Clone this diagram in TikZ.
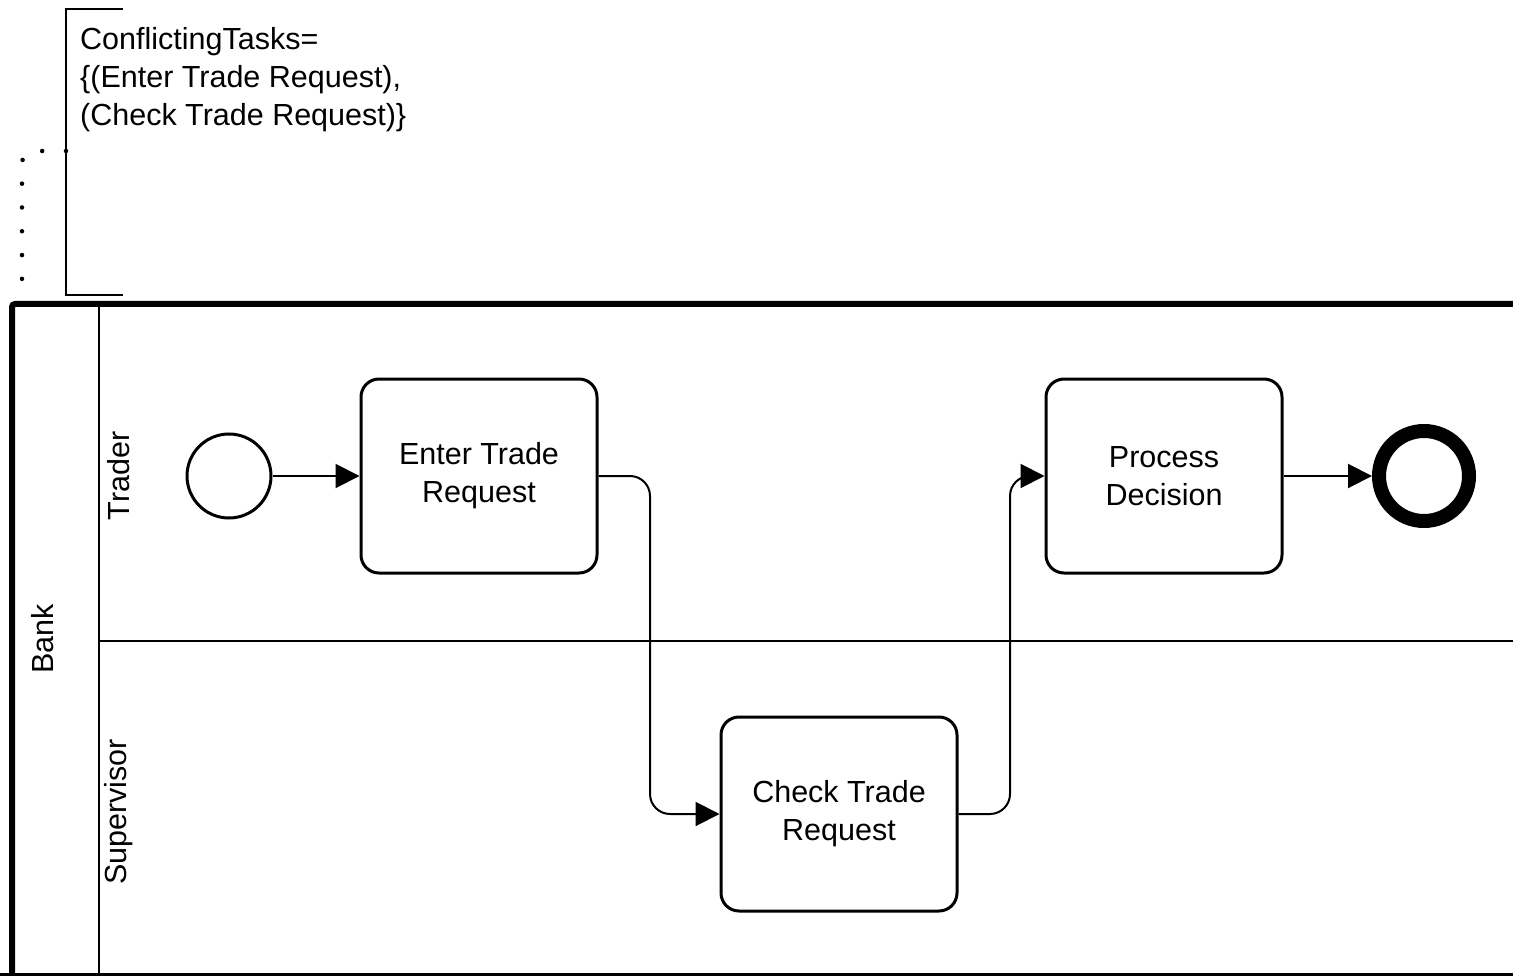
\documentclass[tikz,border=0pt]{standalone}
\usepackage{fontspec}
\setmainfont{Liberation Sans}
\usetikzlibrary{arrows.meta}
\begin{document}
\begin{tikzpicture}[x=1pt,y=-1pt,
  txt/.style={font=\fontsize{30.5}{38}\selectfont},
  task/.style={txt,draw,line width=3pt,rounded corners=18pt,minimum width=236pt,minimum height=194pt,inner sep=0pt,align=center},
  startev/.style={draw,circle,line width=3pt,minimum size=84pt,inner sep=0pt},
  endev/.style={draw,circle,line width=14pt,minimum size=90pt,inner sep=0pt},
  flow/.style={line width=2pt,-{Triangle[length=24pt,width=24pt]},rounded corners=20pt},
  lanelabel/.style={font=\fontsize{30.5}{36}\selectfont,rotate=90,inner sep=0pt},
  assoc/.style={line width=4.5pt,line cap=round,dash pattern=on 0pt off 23.8pt,rounded corners=12pt},
]
\useasboundingbox (0,0) rectangle (1513,976);

% text annotation with its bracket
\draw[line width=2pt] (123,9) -- (66,9) -- (66,295) -- (123,295);
\node[txt,anchor=west,align=left,inner sep=0pt] (note) at (80,80)
  {ConflictingTasks=\\{\{}(Enter Trade Request),\\(Check Trade Request)\}};
\coordinate (noteattach) at (66,151);
\coordinate (poolattach) at (22,294);
\draw[assoc] (noteattach) -- (22,151) -- (poolattach);

% pool and lanes
\draw[line width=6pt,rounded corners=3pt] (1540,976) -- (1540,304) -- (12,304) -- (12,990);
\draw[line width=6pt] (0,976) -- (1540,976);
\draw[line width=1.8pt] (99,304) -- (99,976);
\draw[line width=1.8pt] (99,641) -- (1540,641);
\node[lanelabel] (bank) at (43,639) {Bank};
\node[lanelabel] (trader) at (119,476) {Trader};
\node[lanelabel] (supervisor) at (119,812) {Supervisor};

% flow objects
\node[startev] (start) at (229,476) {};
\node[task] (enter) at (479,476) {Enter Trade\\Request};
\node[task] (check) at (839,814) {Check Trade\\Request};
\node[task] (proc) at (1164,476) {Process\\Decision};
\node[endev] (end) at (1424,476) {};

% sequence flows
\draw[flow] (start) -- (enter);
\draw[flow] (enter.east) -- (650,476) -- (650,814) -- (check.west);
\draw[flow] (check.east) -- (1010,814) -- (1010,476) -- (proc.west);
\draw[flow] (proc) -- (end);
\end{tikzpicture}
\end{document}
